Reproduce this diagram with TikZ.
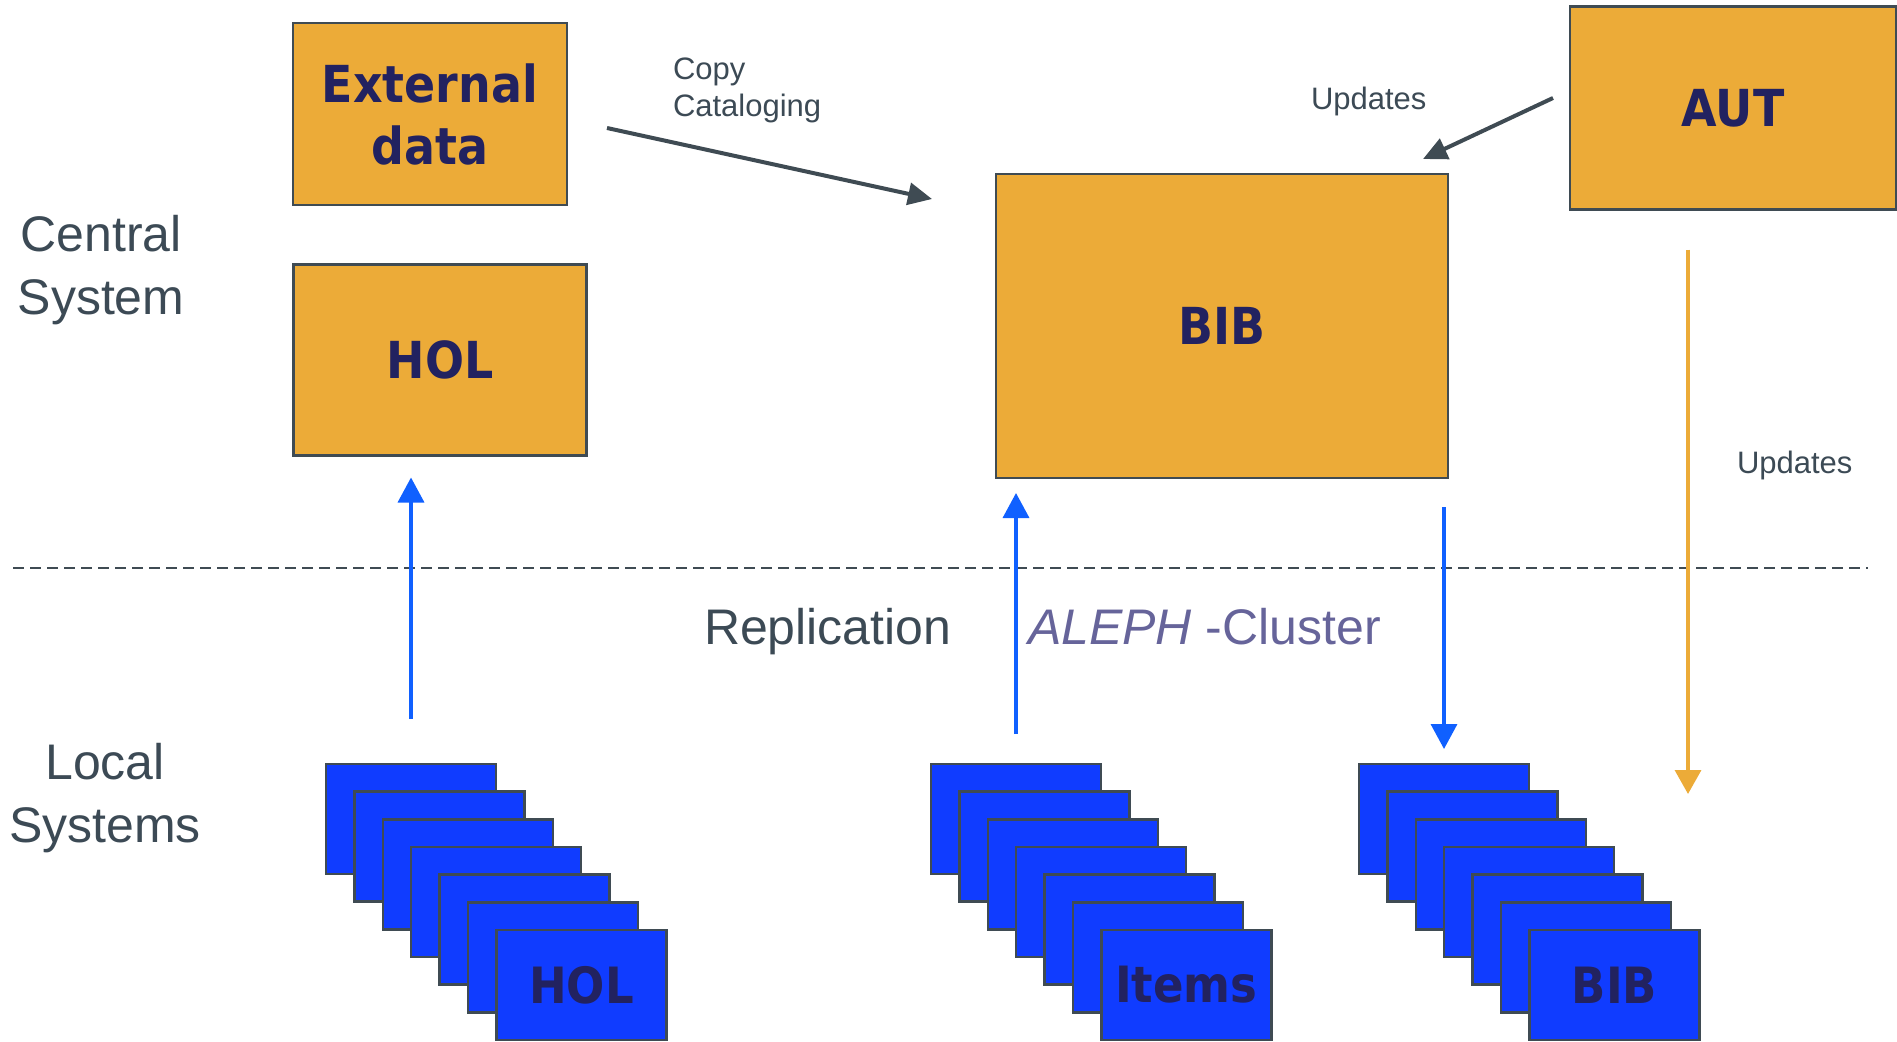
\documentclass[tikz,border=0pt]{standalone}
\usepackage{fontspec}
\setmainfont{Liberation Sans}
\newfontfamily\boxfont[FakeStretch=0.9]{DejaVu Sans}
\usetikzlibrary{arrows.meta}
\definecolor{boxorange}{RGB}{236,171,56}
\definecolor{boxline}{RGB}{63,75,83}
\definecolor{boxtext}{RGB}{34,34,96}
\definecolor{localblue}{RGB}{16,60,255}
\definecolor{replblue}{RGB}{16,96,255}
\definecolor{labelgray}{RGB}{60,74,85}
\definecolor{alephpurple}{RGB}{102,100,154}
\newcommand{\localstack}[4]{
	\foreach \i in {0,...,5}
		\node[localbox] (#1\i) at ({#2+28.4*\i}, {#3+27.67*\i}) {};
	\node[localbox] (#16) at ({#2+28.4*6}, {#3+27.67*6}) {#4};
}

\begin{document}
\begin{tikzpicture}[x = 1pt, y = -1pt, every node/.style = {inner sep = 0pt, outer sep = 0pt},
	central/.style = {draw = boxline, line width = 2.5pt, fill = boxorange, text = boxtext, align = center, font = \boxfont\bfseries\fontsize{51}{62}\selectfont},
	localbox/.style = {draw = boxline, line width = 2.5pt, fill = localblue, text = boxtext, anchor = north west, minimum width = 170pt, minimum height = 110pt, font = \boxfont\bfseries\fontsize{50}{60}\selectfont},
	sidelabel/.style = {text = labelgray, align = center, font = \fontsize{50}{63}\selectfont},
	smalllabel/.style = {text = labelgray, font = \fontsize{31}{37}\selectfont},
	replarrow/.style = {draw = replblue, line width = 3.5pt, -{Triangle[length = 25pt, width = 26pt]}},
	autarrow/.style = {draw = boxorange, line width = 3.5pt, -{Triangle[length = 24pt, width = 26pt]}},
	feedarrow/.style = {draw = boxline, line width = 4pt, -{Triangle[length = 24pt, width = 22pt]}},
	separator/.style = {draw = boxline, line width = 2.5pt, dash pattern = on 11pt off 6pt}]

	\useasboundingbox (0, 0) rectangle (1897, 1041);

	\node (ext) at ( 430, 114) [central, minimum width = 274pt, minimum height = 182pt] {External\\data};
	\node (hol) at ( 440, 360) [central, minimum width = 293pt, minimum height = 191pt] {HOL};
	\node (bib) at (1222, 326) [central, minimum width = 452pt, minimum height = 304pt] {BIB};
	\node (aut) at (1733, 108) [central, minimum width = 326pt, minimum height = 203pt] {AUT};

	\node (central) at (101, 270) [sidelabel] {Central\\System};
	\node (local)   at (105, 798) [sidelabel] {Local\\Systems};
	\node (copylbl) at (673,  90) [smalllabel, anchor = west, align = left] {Copy\\Cataloging};
	\node (updlbl)  at (1311, 109) [smalllabel, anchor = base west] {Updates};
	\node (autlbl)  at (1737, 473) [smalllabel, anchor = base west] {Updates};
	\node (repl)    at ( 704, 644) [sidelabel, anchor = base west] {Replication};
	\node (cluster) at (1028, 644) [sidelabel, anchor = base west, text = alephpurple] {\textit{ALEPH} -Cluster};

	\coordinate (sepL) at (  13, 568);
	\coordinate (sepR) at (1868, 568);
	\draw[separator] (sepL) -- (sepR);

	\localstack{holA}{326}{764}{HOL}
	\localstack{itemsA}{931}{764}{Items}
	\localstack{bibA}{1359}{764}{BIB}

	\path (holA0.north) edge [replarrow, shorten < = 45pt, shorten > = 22pt] (holA0.north |- hol.south);
	\path (itemsA0.north) edge [replarrow, shorten < = 30pt, shorten > = 15pt] (itemsA0.north |- bib.south);
	\path (bib.south -| bibA0.north) edge [replarrow, shorten < = 29pt, shorten > = 15pt] (bibA0.north);

	\coordinate (autfrom) at ([xshift = -45pt] aut.south);
	\coordinate (autto) at (1688, 794);
	\path (autfrom) edge [autarrow, shorten < = 40pt] (autto);

	\coordinate (copyfrom) at ( 607, 128);
	\coordinate (copyto)   at ( 932, 199);
	\coordinate (updfrom)  at (1553,  98);
	\coordinate (updto)    at (1423, 159);
	\path (copyfrom) edge [feedarrow] (copyto);
	\path (updfrom) edge [feedarrow] (updto);

\end{tikzpicture}
\end{document}
